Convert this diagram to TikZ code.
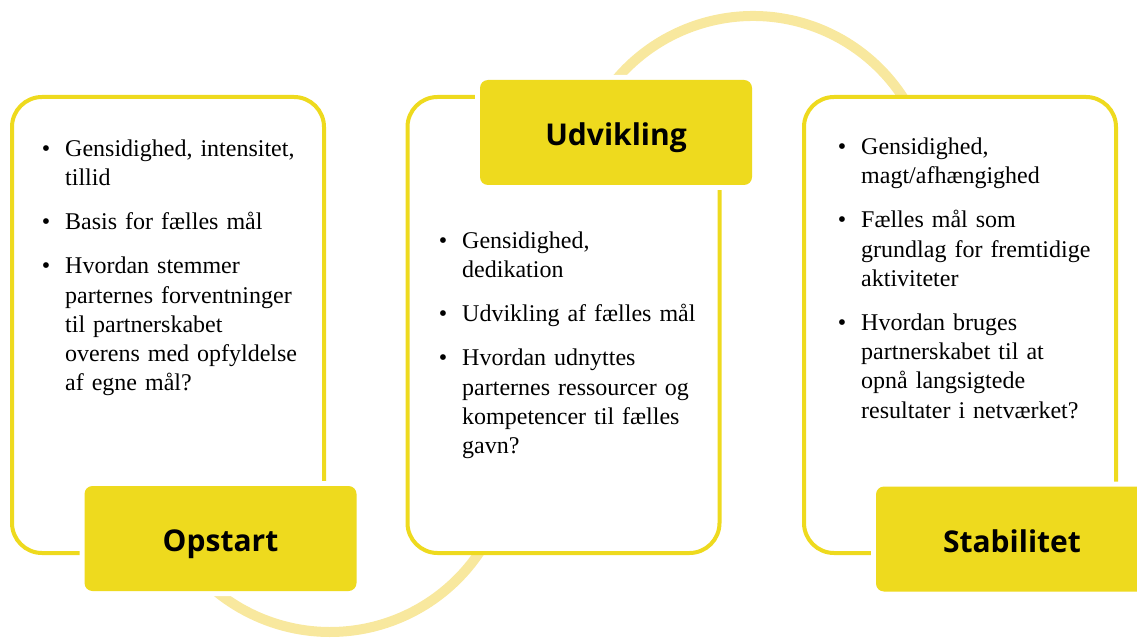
\documentclass[tikz,border=0pt]{standalone}
\usepackage{fontspec}
\setmainfont{Liberation Serif}
\newfontfamily\titelfont{Open Sans}
\definecolor{gul}{HTML}{EEDA1E}
\definecolor{lysgul}{HTML}{F8E89E}
\newenvironment{punkter}{\begin{list}{\textbullet}{\leftmargin=27pt\labelwidth=12pt\labelsep=15pt\itemsep=14.7pt\parsep=0pt\topsep=0pt\partopsep=0pt}}{\end{list}}
\tikzset{
  ramme/.style={draw=gul, line width=4pt, fill=white, rounded corners=30pt, minimum width=312pt, minimum height=456pt, inner sep=0pt},
  fase/.style={fill=gul, preaction={draw=white, line width=10pt}, rounded corners=8pt, minimum width=272pt, minimum height=105pt, inner sep=0pt, text height=28pt, text depth=1.6pt, font=\titelfont\bfseries\fontsize{30}{36}\selectfont},
  tekst/.style={anchor=north west, text width=300pt, inner sep=0pt, align=left, font=\fontsize{24}{29.3}\selectfont},
  bue/.style={draw=lysgul, line width=10pt}
}
\begin{document}
\begin{tikzpicture}[x=1pt,y=1pt]
        \useasboundingbox (0,0) rectangle (1137,638);
        \coordinate (mo) at (753,443);
        \coordinate (mn) at (330,186);
        \draw[bue] (mo) ++(150:179) arc[start angle=150, end angle=30, radius=179];
        \draw[bue] (mn) ++(225:180) arc[start angle=225, end angle=330, radius=180];
        \node[ramme] (r1) at (168,313){};
        \node[ramme] (r2) at (563.5,313){};
        \node[ramme] (r3) at (960,313){};
        \node[fase] (opstart) at (220.5,99.5){Opstart};
        \node[fase] (udvikling) at (616,505.5){Udvikling};
        \node[fase] (stabilitet) at (1012,99){Stabilitet};
        \node[tekst] (t1) at (38,511){\begin{punkter}
            \item Gensidighed, intensitet,\\ tillid
            \item Basis for fælles mål
            \item Hvordan stemmer\\ parternes forventninger\\ til partnerskabet\\ overens med opfyldelse\\ af egne mål?
          \end{punkter}};
        \node[tekst] (t2) at (435,419){\begin{punkter}
            \item Gensidighed,\\ dedikation
            \item Udvikling af fælles mål
            \item Hvordan udnyttes\\ parternes ressourcer og\\ kompetencer til fælles\\ gavn?
          \end{punkter}};
        \node[tekst] (t3) at (834,513){\begin{punkter}
            \item Gensidighed,\\ magt/afhængighed
            \item Fælles mål som\\ grundlag for fremtidige\\ aktiviteter
            \item Hvordan bruges\\ partnerskabet til at\\ opnå langsigtede\\ resultater i netværket?
          \end{punkter}};
\end{tikzpicture}
\end{document}
